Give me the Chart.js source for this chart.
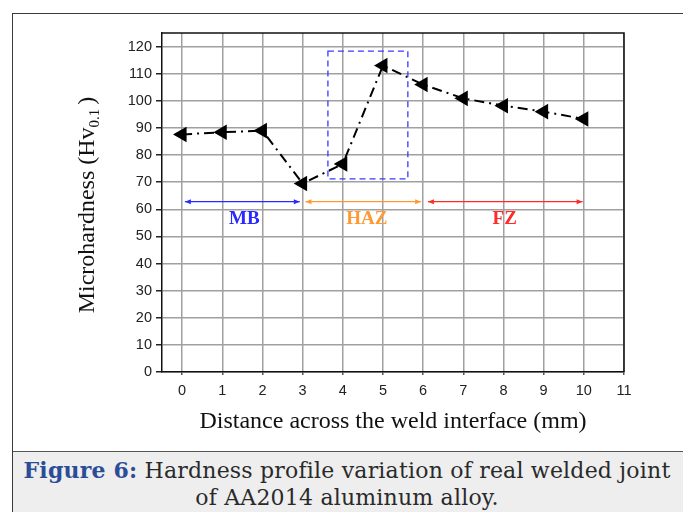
<!DOCTYPE html>
<html>
<head>
<meta charset="utf-8">
<script src="https://cdn.jsdelivr.net/npm/chart.js@4.4.0/dist/chart.umd.min.js"></script>
<style>
  html, body { margin: 0; padding: 0; background: #fff; width: 683px; height: 512px; overflow: hidden; }
  #wrap { position: absolute; left: 0; top: 0; width: 683px; height: 451px; }
  #frame { position: absolute; left: 12px; top: 13px; width: 700px; height: 520px; border: 1.5px solid #3a3a3a; box-sizing: border-box; pointer-events: none; }
  #caption { position: absolute; left: 13px; top: 451px; width: 680px; height: 70px; background: #eeeeee; border-top: 1.5px solid #555; box-sizing: border-box;
    font-family: "DejaVu Serif", serif; font-size: 22px; letter-spacing: 0.2px; color: #2a2a2a; text-align: center; line-height: 27px; padding-top: 5px; padding-right: 12px; white-space: nowrap; }
  #caption b { color: #2b4d98; }
</style>
</head>
<body>
<div id="wrap"><canvas id="c" width="683" height="451"></canvas></div>
<div id="frame"></div>
<div id="caption"><b>Figure 6:</b> Hardness profile variation of real welded joint<br>of AA2014 aluminum alloy.</div>
<script>
// Data
const distances = [0, 1, 2, 3, 4, 5, 6, 7, 8, 9, 10];
const hardness  = [87.6, 88.4, 89, 69.5, 76.7, 113, 106, 100.9, 98.2, 96, 93.3];
const xTicks = [0, 1, 2, 3, 4, 5, 6, 7, 8, 9, 10, 11];
const yTicks = [0, 10, 20, 30, 40, 50, 60, 70, 80, 90, 100, 110, 120];
const zoneNames  = ["MB", "HAZ", "FZ"];
const zoneStarts = [0.07, 3.07, 6.12];
const zoneEnds   = [2.93, 5.95, 9.97];
const zoneArrowY = 62.8;
const zoneLabelX = [1.55, 4.6, 8.03];
const zoneLabelY = 56.5;
const zoneColors = ["#2a2aff", "#ff9a33", "#ff2a2a"];
const boxX = [3.63, 5.62];
const boxY = [71.2, 118.3];

const overlay = {
  id: 'overlay',
  afterDatasetsDraw(chart) {
    const ctx = chart.ctx, xs = chart.scales.x, ys = chart.scales.y, a = chart.chartArea;
    ctx.save();
    // top and right frame
    ctx.strokeStyle = '#111'; ctx.lineWidth = 1.5;
    ctx.beginPath();
    ctx.moveTo(a.left, a.top); ctx.lineTo(a.right, a.top); ctx.lineTo(a.right, a.bottom);
    ctx.stroke();
    // dashed blue box
    ctx.strokeStyle = '#3a3aff'; ctx.lineWidth = 1.3; ctx.setLineDash([6, 4]);
    const bx1 = xs.getPixelForValue(boxX[0]), bx2 = xs.getPixelForValue(boxX[1]);
    const by1 = ys.getPixelForValue(boxY[1]), by2 = ys.getPixelForValue(boxY[0]);
    ctx.strokeRect(bx1, by1, bx2 - bx1, by2 - by1);
    ctx.setLineDash([]);
    // zone arrows and labels
    const yA = ys.getPixelForValue(zoneArrowY);
    for (let i = 0; i < zoneNames.length; i++) {
      const x1 = xs.getPixelForValue(zoneStarts[i]), x2 = xs.getPixelForValue(zoneEnds[i]);
      ctx.strokeStyle = zoneColors[i]; ctx.fillStyle = zoneColors[i]; ctx.lineWidth = 1.3;
      ctx.beginPath(); ctx.moveTo(x1, yA); ctx.lineTo(x2, yA); ctx.stroke();
      ctx.beginPath(); ctx.moveTo(x1, yA); ctx.lineTo(x1 + 6, yA - 2.5); ctx.lineTo(x1 + 6, yA + 2.5); ctx.closePath(); ctx.fill();
      ctx.beginPath(); ctx.moveTo(x2, yA); ctx.lineTo(x2 - 6, yA - 2.5); ctx.lineTo(x2 - 6, yA + 2.5); ctx.closePath(); ctx.fill();
      ctx.font = 'bold 19px "Liberation Serif"';
      ctx.textAlign = 'center'; ctx.textBaseline = 'middle';
      ctx.fillText(zoneNames[i], xs.getPixelForValue(zoneLabelX[i]), ys.getPixelForValue(zoneLabelY));
    }
    // axis titles
    ctx.fillStyle = '#111';
    ctx.font = '24px "Liberation Serif"';
    ctx.textAlign = 'center'; ctx.textBaseline = 'middle';
    ctx.fillText('Distance across the weld interface (mm)', 393, 422);
    ctx.translate(88, 205);
    ctx.rotate(-Math.PI / 2);
    const main = 'Microhardness (Hv', sub = '0.1', end = ')';
    ctx.font = '24px "Liberation Serif"';
    const w1 = ctx.measureText(main).width, w3 = ctx.measureText(end).width;
    ctx.font = '15px "Liberation Serif"';
    const w2 = ctx.measureText(sub).width;
    let x0 = -(w1 + w2 + w3 + 4) / 2;
    ctx.textAlign = 'left';
    ctx.font = '24px "Liberation Serif"'; ctx.fillText(main, x0, 0);
    ctx.font = '15px "Liberation Serif"'; ctx.fillText(sub, x0 + w1, 7);
    ctx.font = '24px "Liberation Serif"'; ctx.fillText(end, x0 + w1 + w2 + 4, 0);
    ctx.restore();
  }
};

new Chart(document.getElementById('c'), {
  type: 'line',
  data: {
    datasets: [{
      data: distances.map((d, i) => ({ x: d, y: hardness[i] })),
      borderColor: '#000',
      backgroundColor: '#000',
      borderWidth: 2,
      borderDash: [10, 5, 2, 5],
      pointStyle: 'triangle',
      rotation: -90,
      pointRadius: 7,
      pointHoverRadius: 7,
      pointBackgroundColor: '#000',
      pointBorderColor: '#000',
      tension: 0
    }]
  },
  options: {
    responsive: false,
    animation: false,
    devicePixelRatio: 1,
    layout: { padding: { top: 33, right: 59, left: 0, bottom: 0 } },
    plugins: { legend: { display: false }, tooltip: { enabled: false } },
    scales: {
      x: {
        type: 'linear', min: -0.5, max: 11,
        afterBuildTicks(s) { s.ticks = xTicks.map(v => ({ value: v })); },
        afterFit(s) { s.height = 79; },
        grid: { color: '#a0a0a0', lineWidth: 1.5, tickLength: 3, tickColor: '#555' },
        border: { color: '#111', width: 1.5 },
        ticks: { color: '#222', font: { family: 'Liberation Sans', size: 14.5 }, padding: 7, maxRotation: 0 }
      },
      y: {
        min: 0, max: 125,
        afterBuildTicks(s) { s.ticks = yTicks.map(v => ({ value: v })); },
        afterFit(s) { s.width = 162; },
        grid: { color: '#a0a0a0', lineWidth: 1.5, tickLength: 6, tickColor: '#222' },
        border: { color: '#111', width: 1.5 },
        ticks: { color: '#222', font: { family: 'Liberation Sans', size: 14.5 }, padding: 4 }
      }
    }
  },
  plugins: [overlay]
});
</script>
</body>
</html>
